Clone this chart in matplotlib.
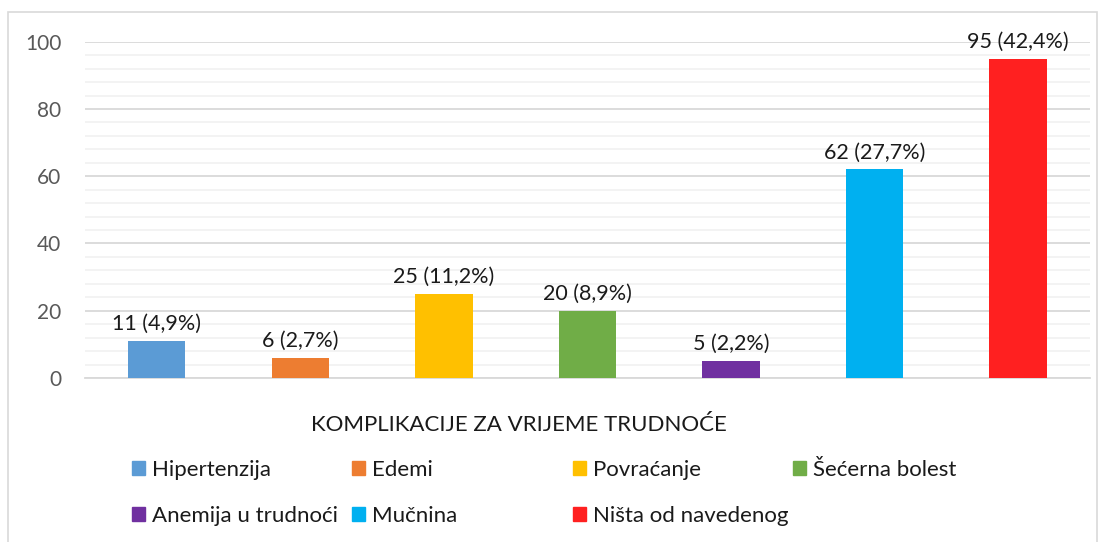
import matplotlib
matplotlib.use('Agg')
import matplotlib.pyplot as plt
from matplotlib.patches import Patch, Rectangle
from matplotlib.ticker import MultipleLocator

# podaci
kategorije = ['Hipertenzija', 'Edemi', 'Povraćanje', 'Šećerna bolest',
              'Anemija u trudnoći', 'Mučnina', 'Ništa od navedenog']
broj = [11, 6, 25, 20, 5, 62, 95]
postotak = ['4,9%', '2,7%', '11,2%', '8,9%', '2,2%', '27,7%', '42,4%']
boje = ['#5B9BD5', '#ED7D31', '#FFC000', '#70AD47', '#7030A0', '#00B0F0', '#FF2020']
naslov = 'KOMPLIKACIJE ZA VRIJEME TRUDNOĆE'

plt.rcParams['font.family'] = ['Lato', 'DejaVu Sans']

W, H = 1105, 542
fig = plt.figure(figsize=(W / 100, H / 100), dpi=100)
ax = fig.add_axes([85 / W, 1 - 378 / H, (1090 - 85) / W, (378 - 41.7) / H])

x = range(len(broj))
ax.bar(x, broj, width=0.4, color=boje, zorder=3)
for i in x:
    ax.annotate('%d (%s)' % (broj[i], postotak[i]), (i, broj[i]),
                xytext=(0, 5), textcoords='offset points', ha='center', va='bottom',
                fontsize=15.5, color='#1a1a1a', annotation_clip=False)

ax.set_xlim(-0.5, len(broj) - 0.5)
ax.set_ylim(0, 100)
ax.yaxis.set_major_locator(MultipleLocator(20))
ax.yaxis.set_minor_locator(MultipleLocator(4))
ax.grid(axis='y', which='major', color='#d9d9d9', lw=1.3, zorder=0)
ax.grid(axis='y', which='minor', color='#f2f2f2', lw=1.3, zorder=0)
ax.set_xticks([])
ax.tick_params(axis='y', which='both', length=0, pad=17, labelsize=15, labelcolor='#595959')
for s in ['top', 'right', 'left']:
    ax.spines[s].set_visible(False)
ax.spines['bottom'].set_color('#d9d9d9')
ax.spines['bottom'].set_linewidth(1.3)

fig.text(519 / W, 1 - 425 / H, naslov, ha='center', va='center', fontsize=16, color='#1a1a1a')

# legenda: 4 stupca, 2 reda
stup_x = [132, 352, 573, 793]
red_y = [470, 516]
for k, (ime, c) in enumerate(zip(kategorije, boje)):
    px = stup_x[k % 4]
    py = red_y[k // 4]
    fig.legend(handles=[Patch(color=c)], labels=[ime], loc='center left',
               bbox_to_anchor=(px / W, 1 - py / H), frameon=False, fontsize=16,
               handlelength=0.6, handleheight=0.6, handletextpad=0.3,
               borderpad=0, borderaxespad=0, labelcolor='#1a1a1a')

fig.patches.append(Rectangle((8 / W, -0.01), (1097 - 8) / W, 1 - 12 / H + 0.01,
                             transform=fig.transFigure, fill=False, ec='#d9d9d9', lw=1.2))

fig.savefig('out.png', dpi=100)
